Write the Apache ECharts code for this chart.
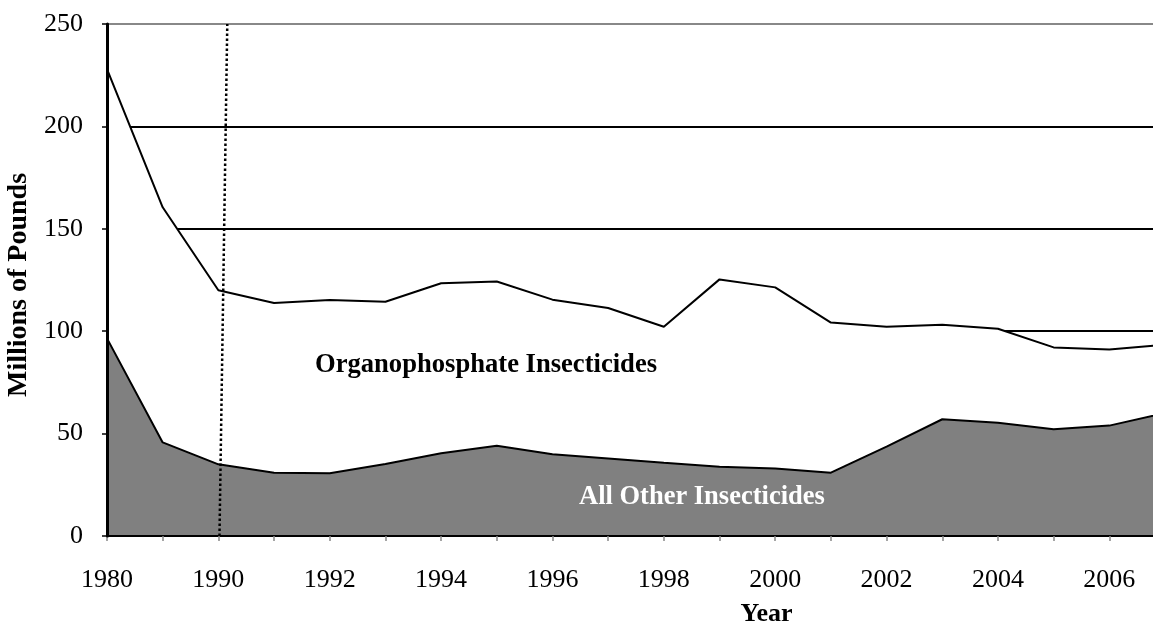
<!DOCTYPE html>
<html>
<head>
<meta charset="utf-8">
<script src="https://cdn.jsdelivr.net/npm/echarts@6/dist/echarts.min.js"></script>
<style>
  html, body { margin: 0; padding: 0; background: #fff; }
  #chart { width: 1153px; height: 622px; }
</style>
</head>
<body>
<div id="chart"></div>
<script>
// Categories (second point is an unlabeled earlier year)
const years = ['1980', '1985', '1990', '1991', '1992', '1993', '1994', '1995', '1996', '1997',
               '1998', '1999', '2000', '2001', '2002', '2003', '2004', '2005', '2006', '2007'];
// All Other Insecticides (millions of pounds)
const otherInsecticides = [96.5, 45.7, 35.0, 30.9, 30.6, 35.2, 40.4, 44.1, 39.9, 37.9,
                           35.8, 33.8, 33.0, 30.9, 43.6, 57.0, 55.3, 52.1, 53.9, 60.0];
// Organophosphate Insecticides (millions of pounds, stacked on top)
const organophosphates = [131.5, 114.8, 85.0, 82.9, 84.6, 79.2, 83.0, 80.2, 75.5, 73.4,
                          66.4, 91.5, 88.4, 73.3, 58.6, 46.2, 45.9, 40.0, 37.2, 33.4];
// Y axis ticks
const yMin = 0, yMax = 250, yStep = 50;
// Dotted separator near 1990 (category index positions at bottom and top)
const separatorBottom = [2.02, 0];
const separatorTop = [2.16, 250];

const FONT = "'Liberation Serif', 'Times New Roman', serif";

const chart = echarts.init(document.getElementById('chart'), null, { renderer: 'canvas' });
chart.setOption({
  animation: false,
  backgroundColor: '#fff',
  grid: { left: 107, top: 24, width: 1058, height: 512, containLabel: false, outerBoundsMode: 'none' },
  xAxis: [{
    type: 'category',
    data: years,
    boundaryGap: false,
    name: 'Year',
    nameLocation: 'middle',
    nameGap: 65,
    nameTextStyle: { fontFamily: FONT, fontSize: 26, fontWeight: 'bold', color: '#000', padding: [0, 0, 0, 261] },
    axisLine: { lineStyle: { color: '#000', width: 2 } },
    axisTick: { show: true, interval: 0, length: 5, lineStyle: { color: '#888', width: 1.5 } },
    axisLabel: { interval: 1, margin: 31, fontFamily: FONT, fontSize: 26, color: '#000' },
    splitLine: { show: false },
    z: 5
  }, {
    type: 'value',
    min: 0,
    max: years.length - 1,
    show: false
  }],
  yAxis: [{
    type: 'value',
    min: yMin,
    max: yMax,
    interval: yStep,
    axisLine: { show: false },
    axisTick: { show: false },
    axisLabel: { show: false },
    splitLine: { show: true, lineStyle: { color: ['#000', '#000', '#000', '#000', '#000', '#888'], width: 2 } },
    z: 0
  }, {
    type: 'value',
    position: 'left',
    min: yMin,
    max: yMax,
    interval: yStep,
    name: 'Millions of Pounds',
    nameLocation: 'middle',
    nameGap: 66,
    nameRotate: 90,
    nameTextStyle: { fontFamily: FONT, fontSize: 28, fontWeight: 'bold', color: '#000', padding: [0, 10, 0, 0] },
    axisLine: { show: true, lineStyle: { color: '#000', width: 3 } },
    axisTick: { show: true, length: 5, lineStyle: { color: '#000', width: 1.5 } },
    axisLabel: { margin: 24, fontFamily: FONT, fontSize: 26, color: '#000' },
    splitLine: { show: false },
    z: 6
  }],
  series: [{
    name: 'All Other Insecticides',
    type: 'line',
    stack: 'total',
    data: otherInsecticides,
    symbol: 'none',
    lineStyle: { color: '#000', width: 2 },
    areaStyle: { color: '#808080', opacity: 1 }
  }, {
    name: 'Organophosphate Insecticides',
    type: 'line',
    stack: 'total',
    data: organophosphates,
    symbol: 'none',
    lineStyle: { color: '#000', width: 2 },
    areaStyle: { color: '#ffffff', opacity: 1 }
  }, {
    name: 'separator',
    type: 'line',
    xAxisIndex: 1,
    yAxisIndex: 0,
    data: [],
    z: 10,
    markLine: {
      silent: true,
      symbol: 'none',
      label: { show: false },
      lineStyle: { color: '#000', type: 'dotted', width: 2.5 },
      data: [[{ coord: separatorBottom }, { coord: separatorTop }]]
    }
  }],
  graphic: [{
    type: 'text',
    left: 315,
    top: 352,
    style: { text: 'Organophosphate Insecticides', font: "bold 26.6px 'Liberation Serif', 'Times New Roman', serif", fill: '#000' },
    z: 20
  }, {
    type: 'text',
    left: 579,
    top: 484,
    style: { text: 'All Other Insecticides', font: "bold 26.5px 'Liberation Serif', 'Times New Roman', serif", fill: '#fff' },
    z: 20
  }]
});
</script>
</body>
</html>
